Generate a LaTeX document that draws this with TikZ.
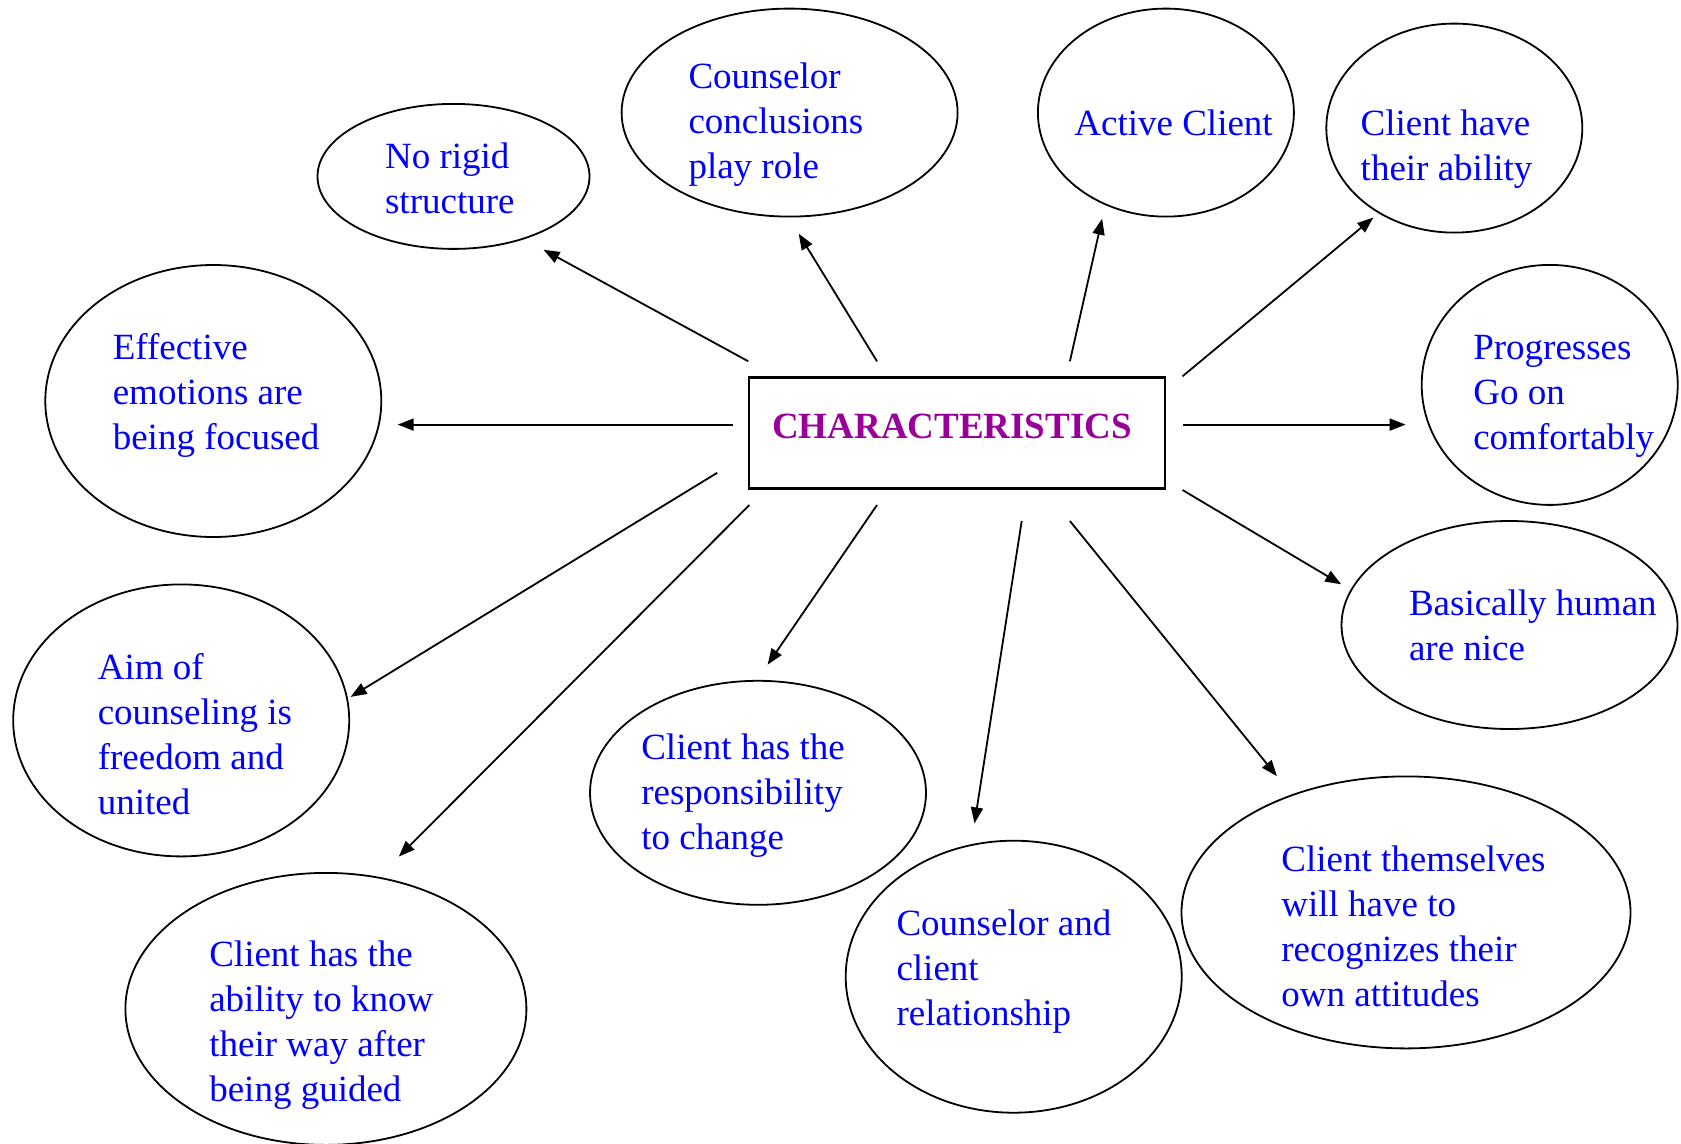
\documentclass[tikz,border=0pt]{standalone}
\usepackage{fontspec}
\setmainfont{Liberation Serif}
\usepackage{xcolor}
\usetikzlibrary{shapes,arrows.meta}
\definecolor{charpurple}{HTML}{990099}
\definecolor{txtblue}{HTML}{0000FF}
\tikzset{
  bubble/.style={draw, ellipse, line width=1.8pt, inner sep=0pt},
  bubbletext/.style={anchor=west, align=left, inner sep=0pt, text=txtblue,
    font=\fontsize{37pt}{45pt}\selectfont},
  link/.style={line width=1.8pt, -{Triangle[length=16pt,width=12pt]}}
}
\begin{document}
\begin{tikzpicture}[x=1pt,y=-1pt]
    \clip (0,0) rectangle (1681,1143);

    % centre box
    \node[draw, line width=2.5pt, minimum width=416pt, minimum height=111pt] (char) at (957,433) {};
    \node[text=charpurple, inner sep=0pt, font=\fontsize{37pt}{45pt}\selectfont\bfseries] (char-t) at (952,426.5) {CHARACTERISTICS};

    % bubbles
    \node[bubble, minimum width=272pt, minimum height=145pt] (rigid) at (453.5,176.4) {};
    \node[bubbletext] (rigid-t) at (384.9,178) {No rigid\\structure};

    \node[bubble, minimum width=336pt, minimum height=208pt] (concl) at (789.6,112.6) {};
    \node[bubbletext] (concl-t) at (688.3,124.3) {Counselor\\conclusions\\play role};

    \node[bubble, minimum width=256pt, minimum height=208pt] (active) at (1165.9,112.6) {};
    \node[bubbletext] (active-t) at (1074.2,123.3) {Active Client};

    \node[bubble, minimum width=256pt, minimum height=209pt] (ability) at (1454.3,128.1) {};
    \node[bubbletext] (ability-t) at (1360.5,149) {Client have\\their ability};

    \node[bubble, minimum width=256pt, minimum height=240pt] (progress) at (1549.7,384.9) {};
    \node[bubbletext] (progress-t) at (1473.1,396.6) {Progresses\\Go on\\comfortably};

    \node[bubble, minimum width=336pt, minimum height=208pt] (nice) at (1509.5,625) {};
    \node[bubbletext] (nice-t) at (1408.8,625) {Basically human\\are nice};

    \node[bubble, minimum width=449pt, minimum height=272pt] (attit) at (1406,912.4) {};
    \node[bubbletext] (attit-t) at (1281.2,926.2) {Client themselves\\will have to\\recognizes their\\own attitudes};

    \node[bubble, minimum width=336pt, minimum height=272pt] (relat) at (1013.7,976.7) {};
    \node[bubbletext] (relat-t) at (896.3,971.3) {Counselor and\\client\\relationship};

    \node[bubble, minimum width=336pt, minimum height=224pt] (resp) at (758,792.8) {};
    \node[bubbletext] (resp-t) at (641.1,795.4) {Client has the\\responsibility\\to change};

    \node[bubble, minimum width=401pt, minimum height=272pt] (know) at (325.9,1008.9) {};
    \node[bubbletext] (know-t) at (209.1,1024.9) {Client has the\\ability to know\\their way after\\being guided};

    \node[bubble, minimum width=336pt, minimum height=272pt] (aim) at (181.2,720.4) {};
    \node[bubbletext] (aim-t) at (97.6,734.4) {Aim of\\counseling is\\freedom and\\united};

    \node[bubble, minimum width=336pt, minimum height=272pt] (emot) at (213.3,401) {};
    \node[bubbletext] (emot-t) at (112.6,395.6) {Effective\\emotions are\\being focused};

    % arrow ends
    \coordinate (s1) at (748.3,361.3);  \coordinate (e1) at (543.6,249.8);
    \coordinate (s2) at (877,361.3);    \coordinate (e2) at (798.7,233.7);
    \coordinate (s3) at (1069.9,361.3); \coordinate (e3) at (1102.1,218.7);
    \coordinate (s4) at (1182.5,376.3); \coordinate (e4) at (1373.3,217.6);
    \coordinate (s5) at (1182.5,424.6); \coordinate (e5) at (1405.6,424.6);
    \coordinate (s6) at (1182.5,490);   \coordinate (e6) at (1341.2,584.3);
    \coordinate (s7) at (1069.9,521);   \coordinate (e7) at (1276.9,776.2);
    \coordinate (s8) at (1021.7,521);   \coordinate (e8) at (974.5,823.4);
    \coordinate (s9) at (877,505);      \coordinate (e9) at (767.6,664.7);
    \coordinate (s10) at (749.4,505);   \coordinate (e10) at (398.8,856.6);
    \coordinate (s11) at (717.2,472.8); \coordinate (e11) at (350.6,696.9);
    \coordinate (s12) at (733.3,424.6); \coordinate (e12) at (397.7,424.6);

    % arrows
    \draw[link] (s1) -- (e1);
    \draw[link] (s2) -- (e2);
    \draw[link] (s3) -- (e3);
    \draw[link] (s4) -- (e4);
    \draw[link] (s5) -- (e5);
    \draw[link] (s6) -- (e6);
    \draw[link] (s7) -- (e7);
    \draw[link] (s8) -- (e8);
    \draw[link] (s9) -- (e9);
    \draw[link] (s10) -- (e10);
    \draw[link] (s11) -- (e11);
    \draw[link] (s12) -- (e12);
\end{tikzpicture}
\end{document}
